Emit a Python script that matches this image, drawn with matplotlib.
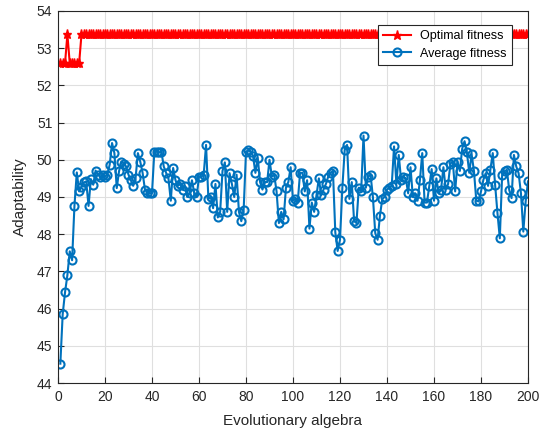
import numpy as np
import matplotlib
matplotlib.use("Agg")
import matplotlib.pyplot as plt

plt.rcParams['font.family'] = ['Liberation Sans', 'DejaVu Sans']

generations = np.arange(1, 201)

optimal_fitness = [52.6, 52.6, 52.6, 53.37, 52.6, 52.6, 52.6, 52.6, 52.6] + [53.37] * 191

average_fitness = [
    44.52, 45.85, 46.44, 46.90, 47.54, 47.30, 48.76, 49.66, 49.15, 49.28,
    49.39, 49.42, 48.76, 49.48, 49.33, 49.71, 49.60, 49.55, 49.58, 49.55,
    49.60, 49.87, 50.45, 50.18, 49.24, 49.70, 49.95, 49.90, 49.82, 49.60,
    49.45, 49.30, 49.50, 50.18, 49.95, 49.65, 49.20, 49.12, 49.10, 49.10,
    50.22, 50.22, 50.20, 50.22, 49.82, 49.65, 49.50, 48.90, 49.78, 49.45,
    49.30, 49.35, 49.20, 49.30, 49.00, 49.10, 49.45, 49.10, 49.00, 49.55,
    49.55, 49.60, 50.40, 48.95, 49.00, 48.70, 49.35, 48.45, 48.60, 49.70,
    49.93, 48.60, 49.64, 49.35, 49.00, 49.60, 48.60, 48.35, 48.65, 50.22,
    50.25, 50.22, 50.10, 49.65, 50.05, 49.40, 49.20, 49.40, 49.40, 50.00,
    49.55, 49.60, 49.15, 48.30, 48.60, 48.40, 49.25, 49.40, 49.80, 48.90,
    48.95, 48.85, 49.65, 49.65, 49.15, 49.45, 48.15, 48.85, 48.60, 49.05,
    49.50, 49.05, 49.20, 49.35, 49.55, 49.65, 49.70, 48.05, 47.55, 47.85,
    49.25, 50.27, 50.40, 48.95, 49.40, 48.35, 48.30, 49.25, 49.15, 50.65,
    49.25, 49.55, 49.60, 49.00, 48.03, 47.85, 48.50, 48.95, 49.00, 49.20,
    49.25, 49.30, 50.36, 49.35, 50.13, 49.45, 49.55, 49.50, 49.10, 49.80,
    49.00, 49.10, 48.90, 49.45, 50.18, 48.85, 48.85, 49.30, 49.75, 48.90,
    49.50, 49.10, 49.20, 49.80, 49.20, 49.35, 49.90, 49.95, 49.15, 49.95,
    49.70, 50.30, 50.50, 50.20, 49.65, 50.15, 49.70, 48.90, 48.88, 49.15,
    49.46, 49.64, 49.30, 49.73, 50.18, 49.33, 48.57, 47.89, 49.60, 49.69,
    49.73, 49.19, 48.97, 50.13, 49.82, 49.64, 49.10, 48.07, 48.88, 49.42,
]

x_ticks = list(range(0, 201, 20))
y_ticks = list(range(44, 55))

fig = plt.figure(figsize=(5.44, 4.34), dpi=100)
ax = fig.add_axes([0.1066, 0.1175, 0.8640, 0.8572])

ax.plot(generations, optimal_fitness, color='#FF0000', linewidth=1.5,
        marker='*', markersize=6.5, label='Optimal fitness')
ax.plot(generations, average_fitness, color='#0072BD', linewidth=1.5,
        marker='o', markersize=5.8, markerfacecolor='none', markeredgewidth=1.5,
        label='Average fitness')

ax.set_xlim(0, 200)
ax.set_ylim(44, 54)
ax.set_xticks(x_ticks)
ax.set_yticks(y_ticks)
ax.tick_params(direction='in', labelsize=10, colors='#262626', length=4)
ax.tick_params(axis='x', pad=5)
ax.tick_params(axis='y', pad=4)
ax.grid(True, color='#DFDFDF', linewidth=0.8)
ax.set_axisbelow(True)
for s in ax.spines.values():
    s.set_color('#262626')
    s.set_linewidth(0.8)

ax.set_xlabel('Evolutionary algebra', fontsize=11, color='#262626', labelpad=7)
ax.set_ylabel('Adaptability', fontsize=11, color='#262626', labelpad=7)

leg = ax.legend(loc='upper right', bbox_to_anchor=(512 / 544, 1 - 25 / 434),
                bbox_transform=fig.transFigure, fontsize=9, fancybox=False,
                framealpha=1, edgecolor='#262626', borderpad=0.4,
                labelspacing=0.45, handlelength=2.2, borderaxespad=0)
leg.get_frame().set_linewidth(0.8)

fig.savefig('out.png', dpi=100)
